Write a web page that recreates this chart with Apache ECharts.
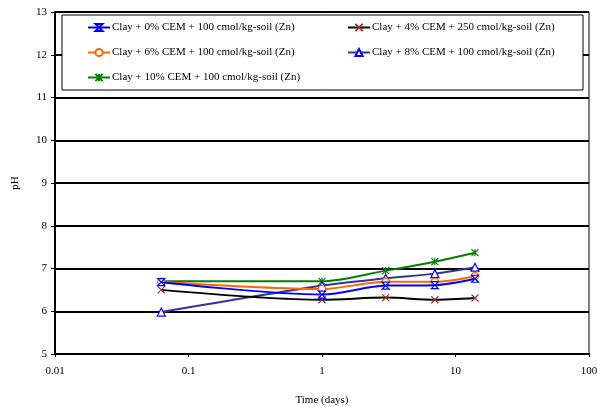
<!DOCTYPE html>
<html>
<head>
<meta charset="utf-8">
<script src="https://cdn.jsdelivr.net/npm/echarts@6/dist/echarts.min.js"></script>
<style>
  html, body { margin: 0; padding: 0; background: #fff; }
  #chart { width: 597px; height: 407px; }
</style>
</head>
<body>
<div id="chart"></div>
<script>
// time in days (log axis)
var days = [0.0625, 1, 3, 7, 14];

// pH readings per mix
var ph0 = [6.68, 6.39, 6.60, 6.61, 6.76];
var ph4 = [6.50, 6.27, 6.32, 6.27, 6.31];
var ph6 = [6.69, 6.52, 6.69, 6.69, 6.82];
var ph8 = [5.98, 6.60, 6.77, 6.88, 7.03];
var ph10 = [6.70, 6.70, 6.95, 7.16, 7.37];

var names = [
  'Clay + 0% CEM + 100 cmol/kg-soil (Zn)',
  'Clay + 4% CEM + 250 cmol/kg-soil (Zn)',
  'Clay + 6% CEM + 100 cmol/kg-soil (Zn)',
  'Clay + 8% CEM + 100 cmol/kg-soil (Zn)',
  'Clay + 10% CEM + 100 cmol/kg-soil (Zn)'
];

var xTickLabels = ['0.01', '0.1', '1', '10', '100'];
var yTickLabels = ['5', '6', '7', '8', '9', '10', '11', '12', '13'];

var font = 'Liberation Serif, Times New Roman, serif';

// marker shapes
var hourglass = 'path://M0,0L10,0L0,10L10,10Z';
var cross = 'path://M0,0L10,10M10,0L0,10';
var star = 'path://M0,0L10,10M10,0L0,10M5,0L5,10';

function pairs(ys) {
  var out = [];
  for (var i = 0; i < days.length; i++) out.push([days[i], ys[i]]);
  return out;
}

var styles = [
  { data: ph0, line: '#0000FF', mark: '#0000FF', symbol: hourglass, size: 7 },
  { data: ph4, line: '#000000', mark: '#993333', symbol: cross, size: 7 },
  { data: ph6, line: '#FF6600', mark: '#FF6600', symbol: 'circle', size: 7 },
  { data: ph8, line: '#333399', mark: '#0000FF', symbol: 'triangle', size: 8 },
  { data: ph10, line: '#008000', mark: '#008000', symbol: star, size: 7 }
];

var series = [];
for (var s = 0; s < styles.length; s++) {
  var st = styles[s];
  series.push({
    name: names[s],
    type: 'line',
    data: pairs(st.data),
    smooth: 0.3,
    symbol: st.symbol,
    symbolSize: st.size,
    showAllSymbol: true,
    lineStyle: { color: st.line, width: 2 },
    itemStyle: { color: '#fff', borderColor: st.mark, borderWidth: 1.2 },
    emphasis: { disabled: true },
    z: 10 - s
  });
}

// legend slots (two columns, three rows)
var slots = [[87, 22], [347, 22], [87, 47], [347, 47], [87, 72]];
var legends = [];
for (var k = 0; k < names.length; k++) {
  legends.push({
    data: [names[k]],
    left: slots[k][0],
    top: slots[k][1],
    padding: 0,
    itemWidth: 22,
    itemHeight: 9,
    selectedMode: false,
    textStyle: { fontFamily: font, fontSize: 11, color: '#000', padding: [0, 0, 0, -3] }
  });
}

var option = {
  backgroundColor: '#fff',
  animation: false,
  grid: {
    left: 55, right: 8, top: 12, bottom: 53,
    outerBoundsMode: 'none',
    containLabel: false,
    show: true, borderColor: '#000', borderWidth: 1
  },
  legend: legends,
  graphic: [{
    type: 'rect',
    shape: { x: 62, y: 15, width: 521, height: 75 },
    style: { fill: '#fff', stroke: '#000', lineWidth: 1 },
    z: 3
  }],
  xAxis: {
    type: 'log',
    logBase: 10,
    min: 0.01,
    max: 100,
    name: 'Time (days)',
    nameLocation: 'middle',
    nameGap: 41,
    nameTextStyle: { fontFamily: font, fontSize: 11, color: '#000' },
    axisLine: { lineStyle: { color: '#000', width: 2 } },
    axisTick: { show: true, length: 3, lineStyle: { color: '#000' } },
    axisLabel: {
      fontFamily: font, fontSize: 11, color: '#000', margin: 12,
      formatter: function (v) {
        var i = Math.round(Math.log10(v)) + 2;
        return xTickLabels[i] !== undefined ? xTickLabels[i] : '';
      }
    },
    splitLine: { show: false }
  },
  yAxis: {
    type: 'value',
    min: 5,
    max: 13,
    interval: 1,
    name: 'pH',
    nameLocation: 'middle',
    nameGap: 34,
    nameRotate: 90,
    nameTextStyle: { fontFamily: font, fontSize: 11, color: '#000' },
    axisLine: { show: true, lineStyle: { color: '#000', width: 2 } },
    axisTick: { show: true, length: 4, lineStyle: { color: '#000' } },
    axisLabel: {
      fontFamily: font, fontSize: 11, color: '#000', margin: 8,
      formatter: function (v) { return yTickLabels[Math.round(v) - 5]; }
    },
    splitLine: { show: true, lineStyle: { color: '#000', width: 2 } }
  },
  series: series
};

var chart = echarts.init(document.getElementById('chart'));
chart.setOption(option);
</script>
</body>
</html>
